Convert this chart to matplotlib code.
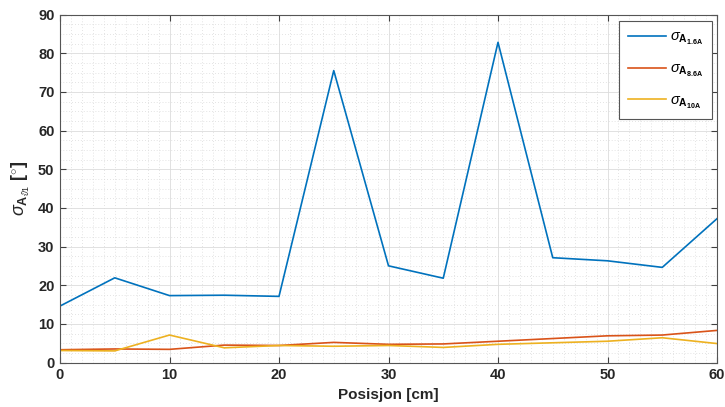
import matplotlib
matplotlib.use("Agg")
import matplotlib.pyplot as plt
from matplotlib.ticker import MultipleLocator

plt.rcParams['font.family'] = ['Liberation Sans', 'DejaVu Sans']
plt.rcParams['mathtext.fontset'] = 'custom'
plt.rcParams['mathtext.rm'] = 'Liberation Sans'
plt.rcParams['mathtext.it'] = 'Liberation Sans:italic'
plt.rcParams['mathtext.bf'] = 'Liberation Sans:bold'

posisjon = [0, 5, 10, 15, 20, 25, 30, 35, 40, 45, 50, 55, 60]
sigma_16A = [14.6, 21.9, 17.3, 17.4, 17.1, 75.5, 25.0, 21.8, 82.8, 27.1, 26.3, 24.6, 37.2]
sigma_86A = [3.3, 3.5, 3.4, 4.5, 4.4, 5.2, 4.7, 4.8, 5.5, 6.2, 6.9, 7.1, 8.3]
sigma_10A = [3.1, 3.0, 7.1, 3.8, 4.4, 4.2, 4.4, 3.9, 4.7, 5.1, 5.5, 6.4, 4.9]

labels = [r'$\sigma_{\mathbf{A}_{\mathbf{1.6A}}}$',
          r'$\sigma_{\mathbf{A}_{\mathbf{8.6A}}}$',
          r'$\sigma_{\mathbf{A}_{\mathbf{10A}}}$']
colors = ['#0072BD', '#D95319', '#EDB120']

fig = plt.figure(figsize=(7.25, 4.07), dpi=100)
ax = fig.add_axes([60 / 725, 1 - 362.5 / 407, 657 / 725, 348 / 407])

for ys, lab, c in zip([sigma_16A, sigma_86A, sigma_10A], labels, colors):
    ax.plot(posisjon, ys, color=c, lw=1.2, label=lab)

ax.set_xlim(0, 60)
ax.set_ylim(0, 90)
ax.xaxis.set_major_locator(MultipleLocator(10))
ax.yaxis.set_major_locator(MultipleLocator(10))
ax.xaxis.set_minor_locator(MultipleLocator(1))
ax.yaxis.set_minor_locator(MultipleLocator(2.5))

ax.grid(which='major', color='#dcdcdc', lw=0.6, ls='-')
ax.grid(which='minor', color='#dadada', lw=0.6, ls=(0, (1, 2.5)))
ax.set_axisbelow(True)

ax.tick_params(which='major', direction='in', length=4, top=True, right=True,
               labelsize=10.5, color='#404040', pad=4, labelcolor='#262626')
ax.tick_params(which='minor', length=0, top=True, right=True)
for lab in ax.get_xticklabels() + ax.get_yticklabels():
    lab.set_fontweight('bold')
for s in ax.spines.values():
    s.set_color('#555555')
    s.set_linewidth(0.8)

ax.set_xlabel('Posisjon [cm]', fontsize=11, fontweight='bold', color='#262626')
ax.set_ylabel(r'$\sigma_{\mathbf{A}_{\vartheta 1}}$ $\mathbf{[}^{\circ}\mathbf{]}$', fontsize=13,
              color='#262626', labelpad=4)

leg = ax.legend(loc='upper right', fontsize=10.5, handlelength=2.6, labelspacing=1.0,
                handletextpad=0.3, fancybox=False, framealpha=1, edgecolor='#555555',
                borderpad=0.6, borderaxespad=0.0, bbox_to_anchor=(0.9925, 0.98))
leg.get_frame().set_linewidth(0.8)

fig.savefig('out.png', dpi=100)
